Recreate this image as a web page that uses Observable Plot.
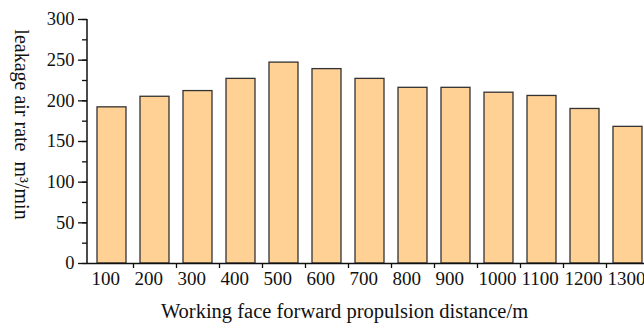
<!DOCTYPE html>
<html><head><meta charset="utf-8">
<script src="https://cdn.jsdelivr.net/npm/d3@7"></script>
<script src="https://cdn.jsdelivr.net/npm/@observablehq/plot@0.6"></script>
<style>body{margin:0;background:#fff}</style>
</head><body><div id="chart"></div>
<script>
const distances = [100, 200, 300, 400, 500, 600, 700, 800, 900, 1000, 1100, 1200, 1300];
const leakage = [192, 205, 212, 227, 247, 239, 227, 216, 216, 210, 206, 190, 168];
const yTicks = [0, 50, 100, 150, 200, 250, 300];
const yMinorTicks = [0, 25, 50, 75, 100, 125, 150, 175, 200, 225, 250, 275, 300];
const xLabel = "Working face forward propulsion distance/m";
const yLabel = "leakage air rate\u00a0 m\u00b3/min";

const data = distances.map((d, i) => ({d: String(d), v: leakage[i]}));

const yAxisLine = (index, scales, values, dims) => {
  const ns = "http://www.w3.org/2000/svg";
  const l = document.createElementNS(ns, "line");
  l.setAttribute("x1", dims.marginLeft);
  l.setAttribute("x2", dims.marginLeft);
  l.setAttribute("y1", scales.y(0));
  l.setAttribute("y2", scales.y(300));
  l.setAttribute("stroke", "#111");
  l.setAttribute("stroke-width", 1.5);
  return l;
};

const chart = Plot.plot({
  width: 644,
  height: 323,
  marginLeft: 87,
  marginRight: -7,
  marginTop: 19,
  marginBottom: 60,
  style: {fontFamily: "'Liberation Serif', 'Times New Roman', serif", fontSize: "18px", color: "#111", background: "white"},
  x: {domain: distances.map(String), paddingInner: 0.327, paddingOuter: 0.209, axis: null},
  y: {domain: [0, 300], axis: null},
  marks: [
    Plot.barY(data, {x: "d", y: "v", fill: "#FFD194", stroke: "#333", strokeWidth: 1.3}),
    Plot.axisY({ticks: yMinorTicks, tickSize: 5, tickFormat: () => "", label: null, strokeWidth: 1.3}),
    Plot.axisY({ticks: yTicks, tickSize: 9, tickPadding: 4, label: null, strokeWidth: 1.3, fontSize: 18.5}),
    Plot.axisX({tickSize: 0, tickPadding: 8, dx: -20.5, textAnchor: "start", label: null, fontSize: 19}),
    Plot.axisX({tickSize: 5, tickFormat: () => "", dx: 21.5, label: null, strokeWidth: 1.3}),
    Plot.ruleY([0], {stroke: "#111", strokeWidth: 1.5}),
    yAxisLine,
    Plot.text([xLabel], {frameAnchor: "bottom", dy: 54, dx: -25, fontSize: 20.5, fill: "#111"}),
    Plot.text([yLabel], {frameAnchor: "left", rotate: 90, textAnchor: "middle", dx: -66, dy: -17, fontSize: 20, fill: "#111"})
  ]
});
document.getElementById("chart").appendChild(chart);
</script>
</body></html>
